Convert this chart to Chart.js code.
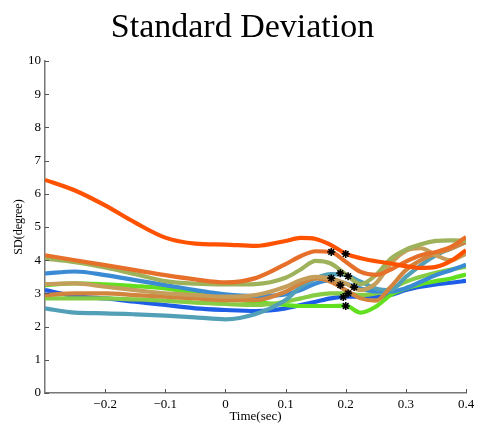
<!DOCTYPE html>
<html>
<head>
<meta charset="utf-8">
<script src="https://cdn.jsdelivr.net/npm/chart.js@4/dist/chart.umd.min.js"></script>
<style>
  html, body { margin: 0; padding: 0; background: #fff; }
  #wrap { width: 485px; height: 426px; }
</style>
</head>
<body>
<div id="wrap"><canvas id="sd-chart" width="485" height="426"></canvas></div>
<script>
// time axis (sec) shared by all curves
const times = [-0.3, -0.25, -0.2, -0.15, -0.1, -0.05, 0, 0.05, 0.1, 0.125, 0.15, 0.175, 0.2, 0.225, 0.25, 0.275, 0.3, 0.325, 0.35, 0.375, 0.4];

// SD (degree) per curve
const sdRed    = [6.42, 6.10, 5.65, 5.13, 4.68, 4.50, 4.47, 4.43, 4.58, 4.67, 4.64, 4.46, 4.20, 4.06, 3.97, 3.90, 3.82, 3.77, 3.80, 3.98, 4.30];
const sdOrange = [4.15, 4.00, 3.85, 3.70, 3.55, 3.42, 3.33, 3.46, 3.88, 4.12, 4.27, 4.25, 3.95, 3.65, 3.56, 3.72, 3.96, 4.15, 4.25, 4.40, 4.70];
const sdOlive  = [4.05, 3.94, 3.78, 3.58, 3.37, 3.29, 3.27, 3.28, 3.47, 3.72, 3.98, 3.90, 3.58, 3.28, 3.55, 4.05, 4.32, 4.48, 4.58, 4.60, 4.58];
const sdSteel  = [3.60, 3.66, 3.55, 3.40, 3.25, 3.10, 2.97, 2.92, 2.97, 3.10, 3.30, 3.40, 3.30, 3.15, 3.06, 3.06, 3.16, 3.35, 3.55, 3.70, 3.86];
const sdGreen  = [3.25, 3.30, 3.27, 3.22, 3.15, 3.02, 2.86, 2.74, 2.65, 2.62, 2.62, 2.62, 2.63, 2.42, 2.60, 2.95, 3.15, 3.28, 3.37, 3.45, 3.57];
const sdTan    = [3.28, 3.30, 3.20, 3.10, 3.00, 2.95, 2.90, 2.95, 3.20, 3.40, 3.50, 3.45, 3.30, 3.10, 3.30, 3.90, 4.28, 4.36, 4.15, 4.00, 4.20];
const sdBrown  = [2.95, 3.00, 3.00, 2.95, 2.90, 2.85, 2.80, 2.80, 3.05, 3.30, 3.45, 3.35, 3.10, 2.85, 2.78, 3.20, 3.70, 4.00, 4.20, 4.35, 4.55];
const sdBlue   = [3.10, 2.92, 2.85, 2.75, 2.65, 2.55, 2.50, 2.47, 2.55, 2.65, 2.75, 2.85, 2.90, 2.90, 2.90, 2.95, 3.10, 3.20, 3.27, 3.32, 3.38];
const sdLime   = [2.85, 2.85, 2.85, 2.82, 2.78, 2.72, 2.68, 2.65, 2.75, 2.85, 2.95, 3.00, 3.00, 2.95, 3.00, 3.15, 3.35, 3.50, 3.62, 3.72, 3.80];
const sdTeal   = [2.55, 2.42, 2.40, 2.37, 2.33, 2.28, 2.22, 2.38, 2.80, 3.20, 3.45, 3.58, 3.55, 3.35, 3.15, 3.10, 3.50, 3.85, 4.15, 4.35, 4.55];

// black asterisks
const starX = [0.176, 0.200, 0.191, 0.204, 0.176, 0.191, 0.214, 0.204, 0.196, 0.200];
const starY = [4.25, 4.19, 3.61, 3.52, 3.46, 3.25, 3.19, 3.00, 2.89, 2.62];

const xTicks = [-0.2, -0.1, 0, 0.1, 0.2, 0.3, 0.4];
const yTicks = [0, 1, 2, 3, 4, 5, 6, 7, 8, 9, 10];

const series = [
  { data: sdRed, color: '#FF5200' },
  { data: sdOrange, color: '#E6702A' },
  { data: sdOlive, color: '#9DB25A' },
  { data: sdTan, color: '#C49E5A' },
  { data: sdBrown, color: '#D2843E' },
  { data: sdTeal, color: '#52A0B8' },
  { data: sdSteel, color: '#3A8AD4' },
  { data: sdLime, color: '#86CC44' },
  { data: sdGreen, color: '#62E020' },
  { data: sdBlue, color: '#1E5EE6' },
];

const serif = '"Liberation Serif", "DejaVu Serif", serif';

function fmt(v) {
  if (Math.abs(v) < 1e-9) return '0';
  const s = Math.abs(v).toFixed(1);
  return v < 0 ? '\u2212' + s : s;
}

// title centred on the whole figure, ticks drawn inward like the original
const figureDecor = {
  id: 'figureDecor',
  afterDraw(chart) {
    const { ctx, chartArea, scales, width } = chart;
    ctx.save();
    ctx.fillStyle = '#000';
    ctx.font = '34px ' + serif;
    ctx.textAlign = 'center';
    ctx.textBaseline = 'middle';
    ctx.fillText('Standard Deviation', width / 2, 28);

    ctx.strokeStyle = '#555';
    ctx.lineWidth = 1;
    xTicks.forEach(v => {
      const px = Math.round(scales.x.getPixelForValue(v)) + 0.5;
      ctx.beginPath();
      ctx.moveTo(px, chartArea.bottom);
      ctx.lineTo(px, chartArea.bottom - 4);
      ctx.stroke();
    });
    yTicks.forEach(v => {
      const py = Math.round(scales.y.getPixelForValue(v)) + 0.5;
      ctx.beginPath();
      ctx.moveTo(chartArea.left, py);
      ctx.lineTo(chartArea.left + 4, py);
      ctx.stroke();
    });
    ctx.restore();
  }
};

const datasets = series.map(s => ({
  data: times.map((t, i) => ({ x: t, y: s.data[i] })),
  borderColor: s.color,
  borderWidth: 4.2,
  pointRadius: 0,
  fill: false,
  cubicInterpolationMode: 'monotone',
  order: 2,
}));

datasets.push({
  type: 'scatter',
  data: starX.map((x, i) => ({ x: x, y: starY[i] })),
  pointStyle: 'star',
  pointRadius: 4,
  borderColor: '#000',
  backgroundColor: '#000',
  borderWidth: 1.6,
  order: 0,
});

new Chart(document.getElementById('sd-chart'), {
  type: 'line',
  data: { datasets },
  options: {
    responsive: false,
    animation: false,
    events: [],
    layout: { padding: { left: 0, right: 19, top: 61, bottom: 0 } },
    plugins: {
      legend: { display: false },
      tooltip: { enabled: false },
      title: { display: false },
    },
    scales: {
      x: {
        type: 'linear',
        min: -0.3,
        max: 0.4,
        afterBuildTicks: scale => { scale.ticks = xTicks.map(v => ({ value: v })); },
        afterFit: scale => { scale.height = 33; },
        grid: { display: false, drawTicks: false, tickLength: 0 },
        border: { display: true, color: '#777', width: 1.5 },
        ticks: {
          color: '#000',
          padding: 4,
          maxRotation: 0,
          font: { family: serif, size: 13 },
          callback: v => fmt(v),
        },
        title: {
          display: true,
          text: 'Time(sec)',
          color: '#000',
          font: { family: serif, size: 13 },
          padding: { top: 0, bottom: 2 },
        },
      },
      y: {
        min: 0,
        max: 10,
        afterBuildTicks: scale => { scale.ticks = yTicks.map(v => ({ value: v })); },
        afterFit: scale => { scale.width = 45; },
        grid: { display: false, drawTicks: false, tickLength: 0 },
        border: { display: true, color: '#777', width: 1.5 },
        ticks: {
          color: '#000',
          padding: 4,
          font: { family: serif, size: 13 },
        },
        title: {
          display: true,
          text: 'SD(degree)',
          color: '#000',
          font: { family: serif, size: 12 },
          padding: { top: 12, bottom: 0 },
        },
      },
    },
  },
  plugins: [figureDecor],
});
</script>
</body>
</html>
